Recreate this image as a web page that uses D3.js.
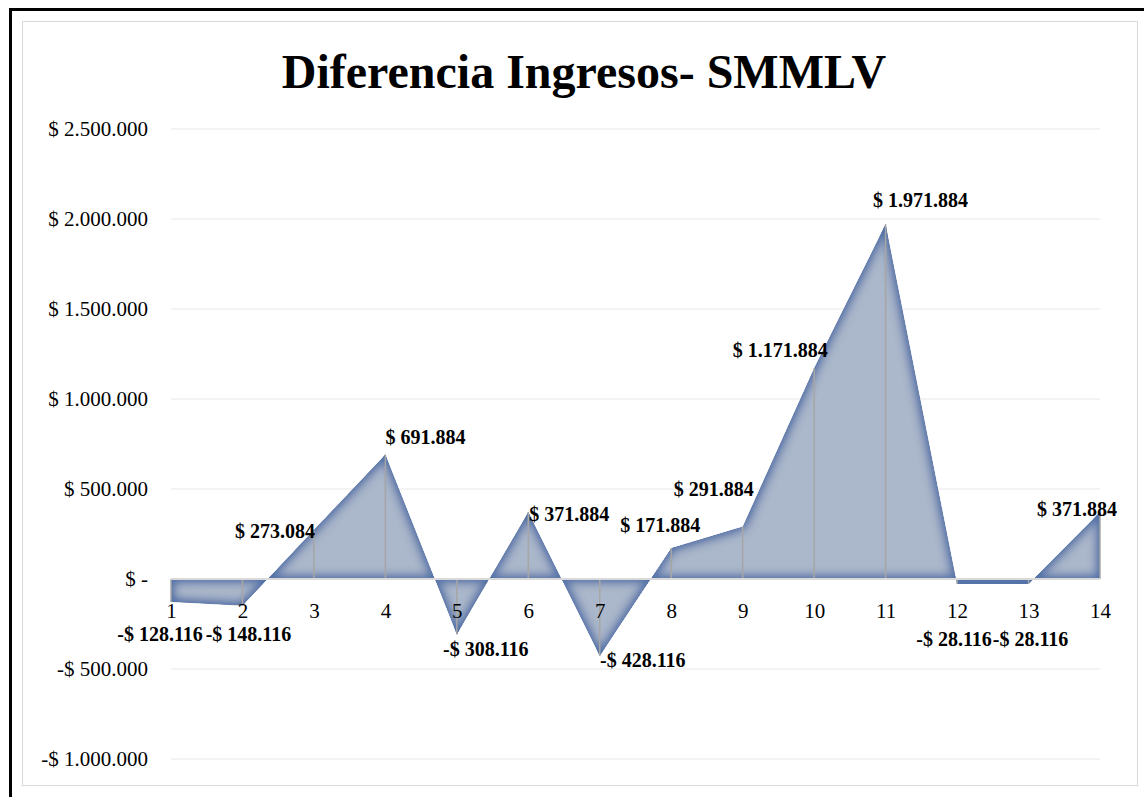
<!DOCTYPE html>
<html>
<head>
<meta charset="utf-8">
<script src="https://d3js.org/d3.v7.min.js"></script>
<style>
  body { margin: 0; background: #fff; }
  text { font-family: "Liberation Serif", "Times New Roman", serif; }
</style>
</head>
<body>
<script>
  // data
  var categories = [1, 2, 3, 4, 5, 6, 7, 8, 9, 10, 11, 12, 13, 14];
  var values = [-128116, -148116, 273084, 691884, -308116, 371884, -428116,
                171884, 291884, 1171884, 1971884, -28116, -28116, 371884];
  var yTicks = [-1000000, -500000, 0, 500000, 1000000, 1500000, 2000000, 2500000];
  // label nudges relative to each point (dx, dy)
  var labelShift = [[-11, 32], [6, 28], [-39, 1], [40, -17], [29, 15], [41, 2], [43, 4],
                    [-11, -23], [-29, -37], [-34, -18], [35, -24], [-3, 55], [2, 55], [-23, -3]];

  var W = 1144, H = 797;
  var svg = d3.select("body").append("svg")
      .attr("width", W)
      .attr("height", H);

  // frames
  svg.append("rect")
      .attr("x", 10.5).attr("y", 9.5)
      .attr("width", 1300).attr("height", 900)
      .attr("fill", "none").attr("stroke", "#000").attr("stroke-width", 3);
  svg.append("rect")
      .attr("x", 22.5).attr("y", 21.5)
      .attr("width", 1115).attr("height", 764)
      .attr("fill", "none").attr("stroke", "#d9d9d9").attr("stroke-width", 1);

  var x = d3.scalePoint().domain(categories).range([171, 1100]);
  var y = d3.scaleLinear().domain([-1000000, 2500000]).range([759, 129]);

  function money(v) {
    if (v === 0) return "$ -";
    var s = d3.format(",")(Math.abs(v)).replace(/,/g, ".");
    return (v < 0 ? "-$ " : "$ ") + s;
  }

  // inner glow filter to mimic the shaded fill
  var defs = svg.append("defs");
  var f = defs.append("filter").attr("id", "glow")
      .attr("x", "-5%").attr("y", "-5%").attr("width", "110%").attr("height", "110%");
  f.append("feGaussianBlur").attr("in", "SourceAlpha").attr("stdDeviation", 6).attr("result", "blur");
  f.append("feComposite").attr("in", "SourceAlpha").attr("in2", "blur")
      .attr("operator", "arithmetic").attr("k2", 1).attr("k3", -1).attr("result", "edge");
  f.append("feFlood").attr("flood-color", "#5171a8").attr("result", "col");
  f.append("feComposite").attr("in", "col").attr("in2", "edge").attr("operator", "in").attr("result", "edgeCol");
  var m = f.append("feMerge");
  m.append("feMergeNode").attr("in", "SourceGraphic");
  m.append("feMergeNode").attr("in", "edgeCol");
  m.append("feMergeNode").attr("in", "edgeCol");
  m.append("feMergeNode").attr("in", "edgeCol");

  // title
  svg.append("text")
      .attr("x", 584).attr("y", 88)
      .attr("text-anchor", "middle")
      .style("font-size", "48px")
      .style("font-weight", "bold")
      .text("Diferencia Ingresos- SMMLV");

  // gridlines
  svg.append("g")
      .selectAll("line")
      .data(yTicks)
      .join("line")
      .attr("x1", 171).attr("x2", 1100)
      .attr("y1", function(d) { return y(d); })
      .attr("y2", function(d) { return y(d); })
      .attr("stroke", "#efefef").attr("stroke-width", 1.5);

  // y axis labels
  var yAxis = d3.axisLeft(y).tickValues(yTicks).tickFormat(money).tickSize(0).tickPadding(0);
  var ya = svg.append("g").attr("transform", "translate(148,0)").call(yAxis);
  ya.select(".domain").remove();
  ya.selectAll("text")
      .style("font-family", "'Liberation Serif', serif")
      .style("font-size", "21px")
      .attr("fill", "#000");

  // area
  var area = d3.area()
      .x(function(d, i) { return x(categories[i]); })
      .y0(y(0))
      .y1(function(d) { return y(d); });
  svg.append("path")
      .datum(values)
      .attr("d", area)
      .attr("fill", "#abb7cb")
      .attr("filter", "url(#glow)");

  // drop lines
  svg.append("g")
      .selectAll("line")
      .data(values)
      .join("line")
      .attr("x1", function(d, i) { return x(categories[i]); })
      .attr("x2", function(d, i) { return x(categories[i]); })
      .attr("y1", y(0))
      .attr("y2", function(d) { return y(d); })
      .attr("stroke", "#a6a6a6").attr("stroke-width", 1.5);

  // zero axis
  svg.append("line")
      .attr("x1", 171).attr("x2", 1100)
      .attr("y1", y(0)).attr("y2", y(0))
      .attr("stroke", "#d9d9d9").attr("stroke-width", 2);

  // x labels
  var xAxis = d3.axisBottom(x).tickSize(0).tickPadding(0);
  var xa = svg.append("g").attr("transform", "translate(0," + (y(0) + 24) + ")").call(xAxis);
  xa.select(".domain").remove();
  xa.selectAll("text")
      .style("font-family", "'Liberation Serif', serif")
      .style("font-size", "21px")
      .attr("fill", "#000");

  // data labels
  svg.append("g")
      .selectAll("text")
      .data(values)
      .join("text")
      .attr("x", function(d, i) { return x(categories[i]) + labelShift[i][0]; })
      .attr("y", function(d, i) { return y(d) + labelShift[i][1]; })
      .attr("text-anchor", "middle")
      .attr("dy", "0.35em")
      .style("font-size", "20px")
      .style("font-weight", "bold")
      .text(money);
</script>
</body>
</html>
